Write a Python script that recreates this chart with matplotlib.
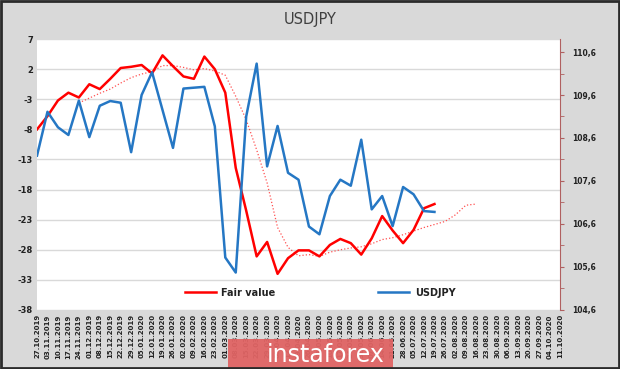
import matplotlib
matplotlib.use("Agg")
import matplotlib.pyplot as plt
from matplotlib.lines import Line2D
from matplotlib.patches import Rectangle

dates = ['27.10.2019', '03.11.2019', '10.11.2019', '17.11.2019', '24.11.2019',
         '01.12.2019', '08.12.2019', '15.12.2019', '22.12.2019', '29.12.2019',
         '05.01.2020', '12.01.2020', '19.01.2020', '26.01.2020', '02.02.2020',
         '09.02.2020', '16.02.2020', '23.02.2020', '01.03.2020', '08.03.2020',
         '15.03.2020', '22.03.2020', '29.03.2020', '05.04.2020', '12.04.2020',
         '19.04.2020', '26.04.2020', '03.05.2020', '10.05.2020', '17.05.2020',
         '24.05.2020', '31.05.2020', '07.06.2020', '14.06.2020', '21.06.2020',
         '28.06.2020', '05.07.2020', '12.07.2020', '19.07.2020', '26.07.2020',
         '02.08.2020', '09.08.2020', '16.08.2020', '23.08.2020', '30.08.2020',
         '06.09.2020', '13.09.2020', '20.09.2020', '27.09.2020', '04.10.2020',
         '11.10.2020']

fair_value = [-8.0, -5.8, -3.2, -1.9, -2.7, -0.5, -1.3, 0.4, 2.2, 2.4,
              2.7, 1.3, 4.3, 2.5, 0.8, 0.4, 4.1, 2.0, -1.9, -14.4,
              -21.5, -29.1, -26.7, -32.0, -29.4, -28.1, -28.1, -29.1, -27.2, -26.2,
              -26.9, -28.8, -26.1, -22.4, -24.8, -26.9, -24.7, -21.1, -20.4]

# smoothed fair value, starts at week 5 and runs ahead of the data
trend_start = 4
fair_trend = [-3.6, -2.8, -2.0, -1.3, -0.3, 0.6, 1.2, 1.6, 2.6, 2.6,
              2.3, 1.9, 2.1, 1.7, 1.0, -2.5, -6.4, -11.4, -16.9, -24.3,
              -27.6, -29.0, -28.8, -29.1, -28.4, -28.0, -27.7, -27.5, -27.0, -26.3,
              -26.0, -25.5, -24.9, -24.3, -23.8, -23.3, -22.2, -20.6, -20.4]

usdjpy = [108.19, 109.21, 108.85, 108.67, 109.47, 108.62, 109.35, 109.46, 109.42, 108.27,
          109.60, 110.13, 109.25, 108.37, 109.75, 109.77, 109.79, 108.87, 105.82, 105.47,
          109.10, 110.33, 107.94, 108.88, 107.79, 107.63, 106.54, 106.36, 107.25, 107.63,
          107.49, 108.56, 106.94, 107.25, 106.55, 107.46, 107.29, 106.90, 106.88]

left_ticks = [7, 2, -3, -8, -13, -18, -23, -28, -33, -38]
right_ticks = [104.6, 105.6, 106.6, 107.6, 108.6, 109.6, 110.6]

bg = '#d9d9d9'
fig = plt.figure(figsize=(6.2, 3.69), dpi=100, facecolor=bg)
ax = fig.add_axes([0.0597, 0.16, 0.8435, 0.734])
ax.set_facecolor('white')

x_fair = list(range(len(fair_value)))
x_trend = list(range(trend_start, trend_start + len(fair_trend)))
x_usd = list(range(len(usdjpy)))

ax.plot(x_trend, fair_trend, color='#ff5050', lw=0.9, ls=':')
ax.plot(x_fair, fair_value, color='#ff0000', lw=1.8)

ax.set_xlim(0, len(dates) - 1)
ax.set_ylim(-38, 7)
ax.set_yticks(left_ticks)
ax.set_yticklabels([str(t) for t in left_ticks], fontsize=6, fontweight='bold', color='#222222')
ax.set_xticks(range(len(dates)))
ax.set_xticklabels(dates, rotation=90, fontsize=5, fontweight='bold', color='#222222')
ax.tick_params(axis='both', length=0, pad=3)
ax.grid(axis='y', color='#d9d9d9', lw=1)
for s in ax.spines.values():
    s.set_visible(False)

ax2 = ax.twinx()
ax2.plot(x_usd, usdjpy, color='#2577c4', lw=1.8)
ax2.set_ylim(104.6, 110.9)
ax2.set_yticks(right_ticks)
ax2.set_yticks([t + 0.5 for t in right_ticks[:-1]], minor=True)
ax2.set_yticklabels([f'{t:.1f}'.replace('.', ',') for t in right_ticks],
                    fontsize=5.5, fontweight='bold', color='#222222')
ax2.tick_params(axis='y', which='both', length=3, color='#b06060', pad=6)
for k, s in ax2.spines.items():
    s.set_visible(k == 'right')
ax2.spines['right'].set_color('#b06060')

handles = [Line2D([], [], color='#ff0000', lw=1.8),
           Line2D([], [], color='#2577c4', lw=1.8)]
leg = ax2.legend(handles, ['Fair value', 'USDJPY'], ncol=2, frameon=False,
                 loc='center', bbox_to_anchor=(0.541, 0.064),
                 handlelength=3.2, columnspacing=10.5, handletextpad=0.6,
                 prop={'size': 7, 'weight': 'bold'})
for t in leg.get_texts():
    t.set_color('#222222')

fig.text(0.5, 0.946, 'USDJPY', ha='center', va='center', fontsize=10.5, color='#404040')

# watermark banner
fig.patches.append(Rectangle((0.368, 0.0), 0.266, 0.081, transform=fig.transFigure,
                             facecolor='#e06464', edgecolor='none', alpha=0.95, zorder=5))
fig.text(0.525, 0.038, 'instaforex', ha='center', va='center', fontsize=17,
         color='white', zorder=6)

fig.patches.append(Rectangle((0.002, 0.003), 0.996, 0.994, transform=fig.transFigure,
                             facecolor='none', edgecolor='#2b2b2b', lw=2, zorder=10))

fig.savefig('out.png', dpi=100, facecolor=bg)
